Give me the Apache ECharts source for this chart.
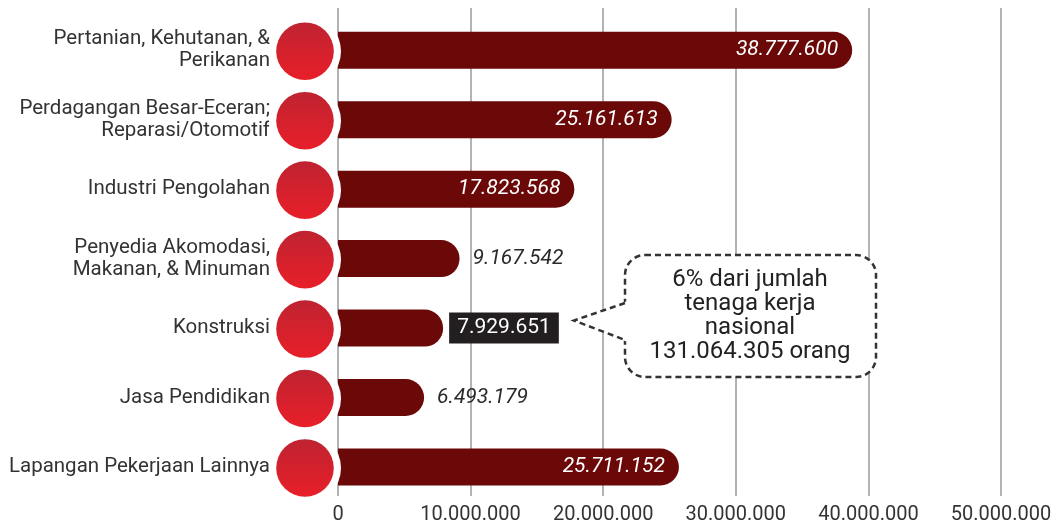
<!DOCTYPE html>
<html><head><meta charset="utf-8">
<script src="https://cdn.jsdelivr.net/npm/echarts@6/dist/echarts.min.js"></script>
<style>html,body{margin:0;padding:0;background:#fff}#c{width:1062px;height:525px}</style>
</head><body><div id="c"></div>
<script>
const categories = ['Pertanian, Kehutanan, &\nPerikanan', 'Perdagangan Besar-Eceran;\nReparasi/Otomotif', 'Industri Pengolahan', 'Penyedia Akomodasi,\nMakanan, & Minuman', 'Konstruksi', 'Jasa Pendidikan', 'Lapangan Pekerjaan Lainnya'];
const values = [38777600, 25161613, 17823568, 9167542, 7929651, 6493179, 25711152];
const xTicks = [0, 10000000, 20000000, 30000000, 40000000, 50000000];
const calloutLines = ['6% dari jumlah', 'tenaga kerja', 'nasional', '131.064.305 orang'];
const labelModes = ['inside', 'inside', 'inside', 'outside', 'boxed', 'outside', 'inside'];

const fmt = v => String(v).replace(/\B(?=(\d{3})+(?!\d))/g, '.');
const FONT = 'Roboto';
const xMin = xTicks[0], xMax = xTicks[xTicks.length - 1], xStep = xTicks[1] - xTicks[0];

function labelFor(mode) {
  const base = { show: true, fontFamily: FONT, fontSize: 21, fontStyle: 'italic', fontWeight: 400, formatter: p => fmt(p.value) };
  if (mode === 'inside') return Object.assign(base, { position: 'insideRight', distance: 14, color: '#fff' });
  if (mode === 'outside') return Object.assign(base, { position: 'right', distance: 13, color: '#2a2a2a' });
  return Object.assign(base, { position: 'right', distance: 6, color: '#fff', fontStyle: 'normal', backgroundColor: '#231f20', padding: [5, 8, 5, 8] });
}

const chart = echarts.init(document.getElementById('c'), null, { renderer: 'canvas' });
chart.setOption({
  animation: false,
  backgroundColor: '#fff',
  grid: [
    { left: 338, right: 61, top: 8, bottom: 28 },
    { left: 338, right: 61, top: 15.5, bottom: 23.3 }
  ],
  xAxis: [
    { gridIndex: 0, type: 'value', min: xMin, max: xMax, interval: xStep,
      axisLine: { show: false }, axisTick: { show: false },
      splitLine: { show: true, lineStyle: { color: '#9a9a9a', width: 1.5 } },
      axisLabel: { fontFamily: FONT, fontSize: 20, color: '#333', margin: 9, formatter: v => fmt(v) } },
    { gridIndex: 1, type: 'value', min: xMin, max: xMax, interval: xStep, show: false, splitLine: { show: false } }
  ],
  yAxis: [
    { gridIndex: 0, type: 'value', min: 0, max: 1, show: false, splitLine: { show: false } },
    { gridIndex: 1, type: 'category', inverse: true, data: categories,
      axisLine: { show: false }, axisTick: { show: false }, splitLine: { show: false },
      axisLabel: { fontFamily: FONT, fontSize: 20.5, color: '#333', lineHeight: 22, margin: 68, align: 'right' } }
  ],
  series: [
    { type: 'bar', xAxisIndex: 1, yAxisIndex: 1, barWidth: 37, z: 2,
      itemStyle: { color: '#6b0909', borderRadius: [0, 19, 19, 0] },
      data: values.map((v, i) => ({ value: v, label: labelFor(labelModes[i]) })) },
    { type: 'custom', xAxisIndex: 1, yAxisIndex: 1, z: 3, silent: true, clip: false,
      data: values.map((v, i) => [0, i]),
      renderItem: (params, api) => {
        const p = api.coord([0, api.value(1)]);
        const cx = p[0] - 33, cy = p[1] + 1;
        return { type: 'group', children: [
          { type: 'circle', shape: { cx, cy, r: 36 }, style: { fill: '#fff' } },
          { type: 'circle', shape: { cx, cy, r: 28.8 }, style: { fill: new echarts.graphic.LinearGradient(0, 0, 0, 1, [{ offset: 0, color: '#bf2331' }, { offset: 1, color: '#e81f29' }]) } }
        ] };
      } }
  ],
  graphic: [
    { type: 'rect', z: 100, shape: { x: 625, y: 255, width: 251, height: 122, r: 20 },
      style: { fill: '#fff', stroke: '#333', lineWidth: 2.5, lineDash: [6, 4] } },
    { type: 'polygon', z: 101, shape: { points: [[627.5, 301], [573, 320], [627.5, 342]] }, style: { fill: '#fff' } },
    { type: 'polyline', z: 102, shape: { points: [[625, 303], [574, 320.5], [625, 340]] },
      style: { fill: null, stroke: '#333', lineWidth: 2.5, lineDash: [6, 4] } },
    { type: 'text', z: 103, x: 750, y: 316,
      style: { text: calloutLines.join('\n'), fontFamily: FONT, fontSize: 24, fill: '#222', align: 'center', verticalAlign: 'middle', lineHeight: 24 } }
  ]
});
</script></body></html>
